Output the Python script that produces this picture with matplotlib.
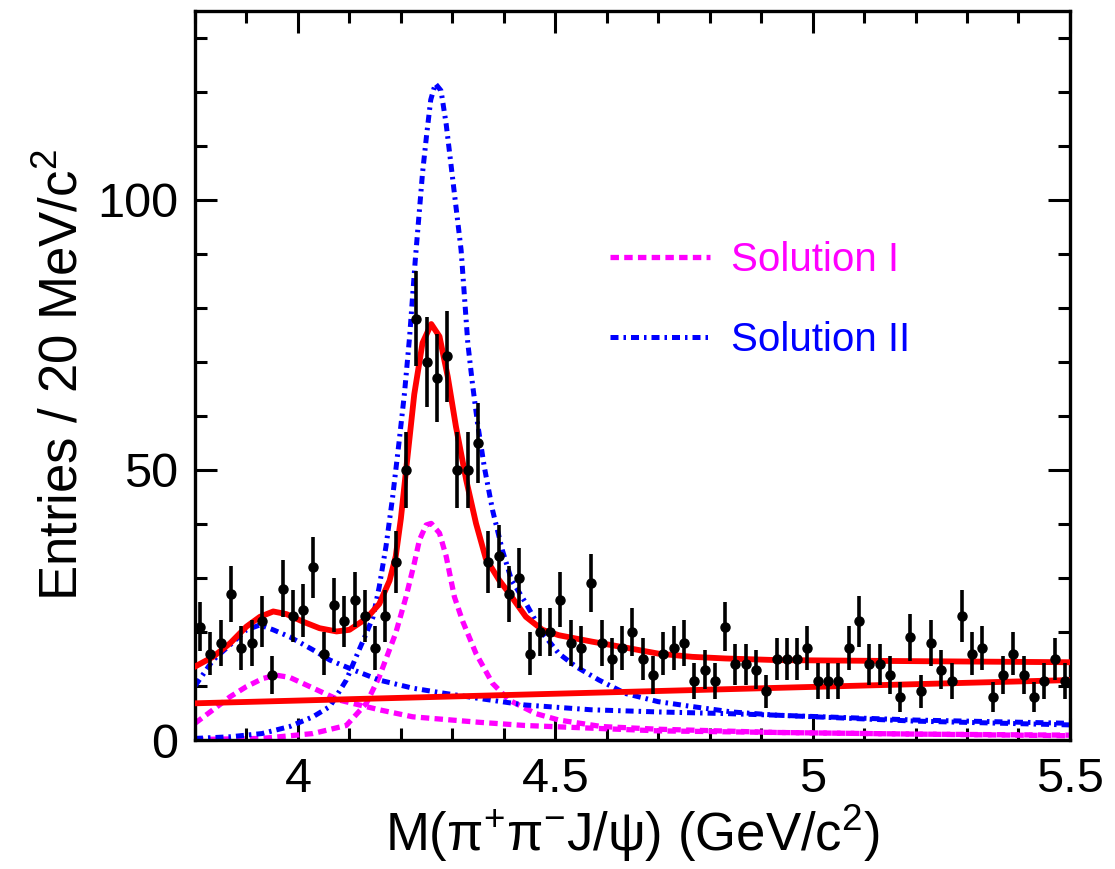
import numpy as np
import matplotlib.pyplot as plt
from matplotlib.ticker import MultipleLocator

plt.rcParams['font.family'] = ['Liberation Sans', 'DejaVu Sans']
plt.rcParams['mathtext.fontset'] = 'custom'
plt.rcParams['mathtext.rm'] = 'Liberation Sans'

# data: 20 MeV bins from 3.80 to 5.50 GeV
bin_lo = 3.80
bin_w = 0.02
counts = [21, 16, 18, 27, 17, 18, 22, 12, 28, 23, 24, 32, 16, 25, 22, 26, 23, 17, 23, 33,
          50, 78, 70, 67, 71, 50, 50, 55, 33, 34, 27, 30,
          16, 20, 20, 26, 18, 17, 29, 18, 15, 17, 20, 15, 12, 16, 17, 18, 11, 13, 11, 21,
          14, 14, 13, 9, 15,
          15, 15, 17, 11, 11, 11, 17, 22, 14, 14, 12, 8, 19, 9, 18, 13, 11, 23, 16, 17,
          8, 12, 16, 12, 8, 11, 15, 11]

# total fit (both solutions give the same curve)
fit_x = [3.80, 3.835, 3.868, 3.90, 3.926, 3.952, 3.978, 4.01, 4.042, 4.075, 4.10, 4.133,
         4.158, 4.178, 4.19, 4.20, 4.209, 4.226, 4.242, 4.259, 4.275, 4.291, 4.307, 4.327,
         4.346, 4.365, 4.391, 4.41, 4.443, 4.475, 4.507, 4.572, 4.637, 4.70, 4.766, 4.83,
         4.93, 5.2, 5.5]
fit_y = [13.6, 15.4, 17.9, 21.0, 22.8, 23.8, 23.3, 21.9, 20.7, 20.1, 20.4, 22.5,
         25.2, 29.5, 34.0, 41.0, 49.0, 64.0, 73.5, 77.0, 74.7, 67.3, 58.0, 48.1,
         40.1, 33.6, 29.6, 27.2, 22.8, 20.4, 19.4, 18.2, 17.1, 16.0, 15.4, 15.1,
         14.8, 14.6, 14.4]

# background
bkg_x = [3.80, 5.50]
bkg_y = [6.8, 11.1]

# solution I components
s1a_x = [3.80, 3.835, 3.868, 3.90, 3.932, 3.958, 3.984, 4.016, 4.08, 4.158, 4.223, 4.35,
         4.44, 4.57, 4.70, 4.93, 5.2, 5.5]
s1a_y = [3.1, 5.6, 8.0, 9.9, 11.4, 12.0, 11.6, 10.2, 7.4, 5.6, 4.3, 3.3,
         2.7, 2.2, 1.7, 1.4, 1.1, 0.9]
s1b_x = [3.80, 3.93, 4.029, 4.094, 4.133, 4.158, 4.19, 4.21, 4.226, 4.236, 4.249, 4.259,
         4.275, 4.288, 4.304, 4.32, 4.346, 4.378, 4.41, 4.462, 4.507, 4.59, 4.70, 4.93,
         5.2, 5.5]
s1b_y = [0.1, 0.3, 1.2, 2.7, 6.8, 11.7, 19.8, 26.5, 32.7, 37.0, 39.8, 40.1,
         38.3, 34.0, 26.5, 22.0, 16.0, 10.5, 7.4, 4.9, 3.7, 2.5, 2.0, 1.4,
         1.1, 0.8]

# solution II components
s2a_x = [3.80, 3.835, 3.868, 3.90, 3.926, 3.952, 3.984, 4.029, 4.062, 4.107, 4.158, 4.223,
         4.288, 4.352, 4.44, 4.57, 4.70, 4.83, 4.93, 5.2, 5.5]
s2a_y = [10.0, 14.8, 17.6, 20.4, 21.3, 20.4, 19.1, 16.7, 14.8, 13.0, 11.1, 9.6,
         8.6, 7.7, 6.5, 5.6, 5.2, 4.9, 4.6, 3.7, 3.1]
s2b_x = [3.80, 3.868, 3.93, 3.984, 4.029, 4.062, 4.094, 4.113, 4.133, 4.146, 4.158, 4.171,
         4.184, 4.197, 4.207, 4.217, 4.228, 4.242, 4.25, 4.258, 4.267, 4.278, 4.288, 4.297,
         4.317, 4.33, 4.339, 4.349, 4.362, 4.378, 4.397, 4.415, 4.443, 4.475, 4.507, 4.54,
         4.585, 4.637, 4.70, 4.766, 4.843, 4.93, 5.2, 5.5]
s2b_y = [0.3, 0.6, 1.2, 2.5, 4.3, 6.2, 11.1, 15.4, 19.8, 22.8, 28.4, 35.8,
         45.0, 55.6, 64.2, 74.7, 88.9, 104.9, 112.0, 118.5, 121.5, 120.2, 114.0, 106.8,
         90.7, 73.5, 66.0, 58.6, 50.6, 42.6, 35.2, 29.6, 25.3, 19.8, 16.0, 13.6,
         11.1, 8.6, 7.1, 6.2, 5.2, 4.6, 3.5, 2.8]

counts = np.array(counts)
centers = bin_lo + bin_w * (np.arange(len(counts)) + 0.5)

fig = plt.figure(figsize=(11.15, 8.69), dpi=100)
ax = fig.add_axes([0.1749, 0.1484, 0.7847, 0.8393])

dash1 = (0, (1.6, 1.0))
dash2 = (0, (1.6, 1.0, 0.5, 1.0))

ax.plot(fit_x, fit_y, color='#ff0000', lw=4.2, zorder=3)
ax.plot(bkg_x, bkg_y, color='#ff0000', lw=4.2, zorder=3)
ax.plot(s1a_x, s1a_y, color='#ff00ff', lw=3.8, ls=dash1, zorder=2)
l1, = ax.plot(s1b_x, s1b_y, color='#ff00ff', lw=3.8, ls=dash1, zorder=2,
              label='Solution I')
ax.plot(s2a_x, s2a_y, color='#0000ff', lw=3.6, ls=dash2, zorder=2)
l2, = ax.plot(s2b_x, s2b_y, color='#0000ff', lw=3.6, ls=dash2, zorder=2,
              label='Solution II')

ax.errorbar(centers, counts, yerr=np.sqrt(counts), fmt='o', color='black', ms=6.5,
            elinewidth=2.6, capsize=0, zorder=5)

ax.set_xlim(3.8, 5.5)
ax.set_ylim(0, 135)
ax.xaxis.set_minor_locator(MultipleLocator(0.1))
ax.yaxis.set_major_locator(MultipleLocator(50))
ax.yaxis.set_minor_locator(MultipleLocator(10))
ax.set_xticks([4, 4.5, 5, 5.5])
ax.set_xticklabels(['4', '4.5', '5', '5.5'])
ax.tick_params(which='both', direction='in', top=True, right=True, width=2.2)
ax.tick_params(which='major', length=16, labelsize=35)
ax.tick_params(which='minor', length=8.5)
ax.tick_params(axis='x', which='major', pad=12)
ax.tick_params(axis='y', which='major', pad=12)
for s in ax.spines.values():
    s.set_linewidth(2.4)

ax.set_xlabel('M(π$^{+}$π$^{-}$J/ψ) (GeV/c$^{2}$)', fontsize=38, labelpad=0)
ax.set_ylabel('Entries / 20 MeV/c$^{2}$', fontsize=38, labelpad=6)

ax.legend(handles=[l1, l2], loc='upper left', bbox_to_anchor=(0.474, 0.684),
          frameon=False, fontsize=29, handlelength=2.5, handletextpad=0.5,
          labelspacing=1.05, borderpad=0, borderaxespad=0, labelcolor='linecolor')

fig.savefig('out.png', dpi=100)
